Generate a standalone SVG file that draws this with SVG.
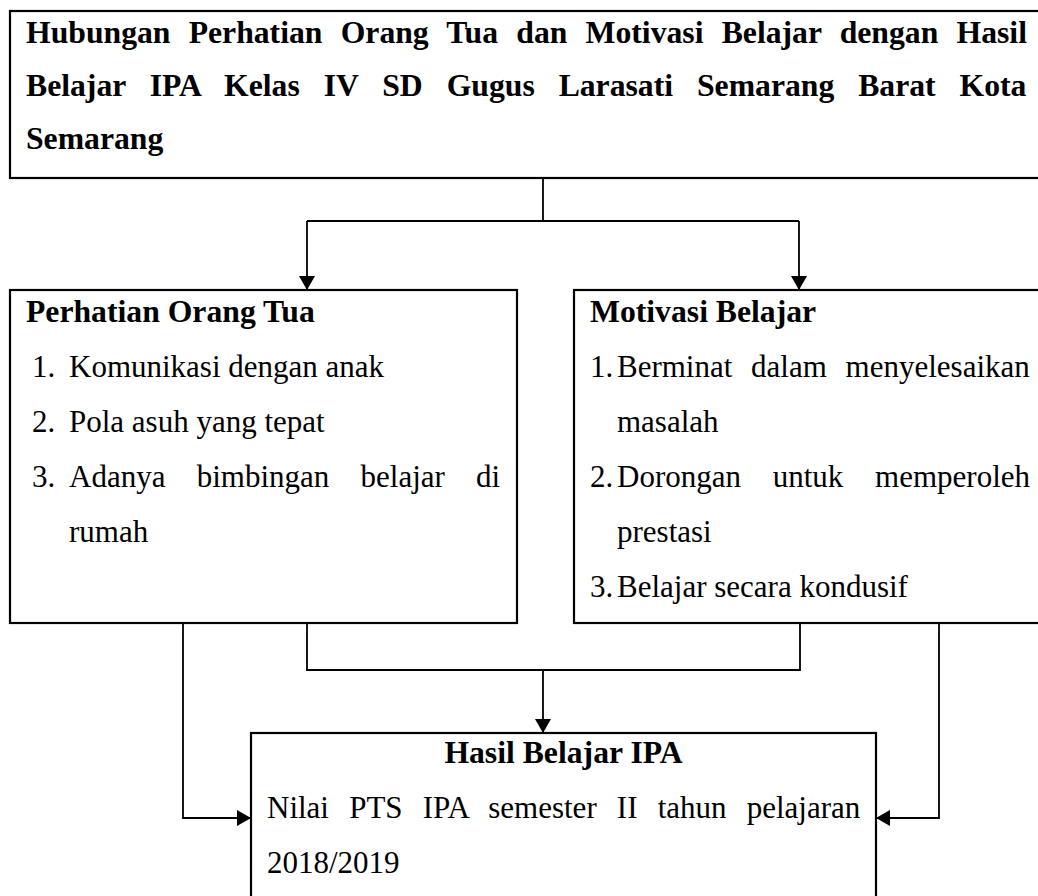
<svg xmlns="http://www.w3.org/2000/svg" width="1038" height="896" viewBox="0 0 1038 896">
<defs>
<style>
.box{fill:#fff;stroke:#000;stroke-width:2.2}
.ln{fill:none;stroke:#000;stroke-width:1.8}
.b{font-family:"Liberation Serif","Times New Roman",serif;font-size:31.7px;font-weight:bold;fill:#000}
.r{font-family:"Liberation Serif","Times New Roman",serif;font-size:31px;fill:#000}
</style>
<marker id="arr" markerUnits="userSpaceOnUse" viewBox="0 0 14 16" refX="14" refY="8" markerWidth="14" markerHeight="16" orient="auto">
<path d="M0,0 L14,8 L0,16 z" fill="#000"/>
</marker>
</defs>
<rect width="1038" height="896" fill="#fff"/>
<g id="connectors">
<path class="ln" d="M543,178 V221"/>
<path class="ln" d="M307,221 H799"/>
<path class="ln" d="M307,221 V290" marker-end="url(#arr)"/>
<path class="ln" d="M799,221 V290" marker-end="url(#arr)"/>
<path class="ln" d="M183,623 V818 H251" marker-end="url(#arr)"/>
<path class="ln" d="M307,623 V670 H800 V623"/>
<path class="ln" d="M543,670 V733" marker-end="url(#arr)"/>
<path class="ln" d="M939,623 V818 H876" marker-end="url(#arr)"/>
</g>
<g id="title">
<rect class="box" x="10" y="11" width="1040" height="167"/>
<text class="b" x="26" y="43" word-spacing="10.3">Hubungan Perhatian Orang Tua dan Motivasi Belajar dengan Hasil</text>
<text class="b" x="26" y="96" word-spacing="16">Belajar IPA Kelas IV SD Gugus Larasati Semarang Barat Kota</text>
<text class="b" x="26" y="149">Semarang</text>
</g>
<g id="perhatian">
<rect class="box" x="10" y="290" width="507" height="333"/>
<text class="b" x="26" y="322">Perhatian Orang Tua</text>
<text class="r" x="32" y="377">1.</text>
<text class="r" x="69" y="377">Komunikasi dengan anak</text>
<text class="r" x="32" y="432">2.</text>
<text class="r" x="69" y="432">Pola asuh yang tepat</text>
<text class="r" x="32" y="487">3.</text>
<text class="r" x="69" y="487" word-spacing="23.5">Adanya bimbingan belajar di</text>
<text class="r" x="69" y="542">rumah</text>
</g>
<g id="motivasi">
<rect class="box" x="574" y="290" width="480" height="333"/>
<text class="b" x="590" y="322">Motivasi Belajar</text>
<text class="r" x="590" y="377">1.</text>
<text class="r" x="617" y="377" word-spacing="11">Berminat dalam menyelesaikan</text>
<text class="r" x="617" y="432">masalah</text>
<text class="r" x="590" y="487">2.</text>
<text class="r" x="617" y="487" word-spacing="24">Dorongan untuk memperoleh</text>
<text class="r" x="617" y="542">prestasi</text>
<text class="r" x="590" y="597">3.</text>
<text class="r" x="617" y="597">Belajar secara kondusif</text>
</g>
<g id="hasil">
<rect class="box" x="251" y="733" width="625" height="180"/>
<text class="b" x="563.5" y="763" text-anchor="middle">Hasil Belajar IPA</text>
<text class="r" x="267" y="818" word-spacing="12.4">Nilai PTS IPA semester II tahun pelajaran</text>
<text class="r" x="267" y="873">2018/2019</text>
</g>
</svg>
